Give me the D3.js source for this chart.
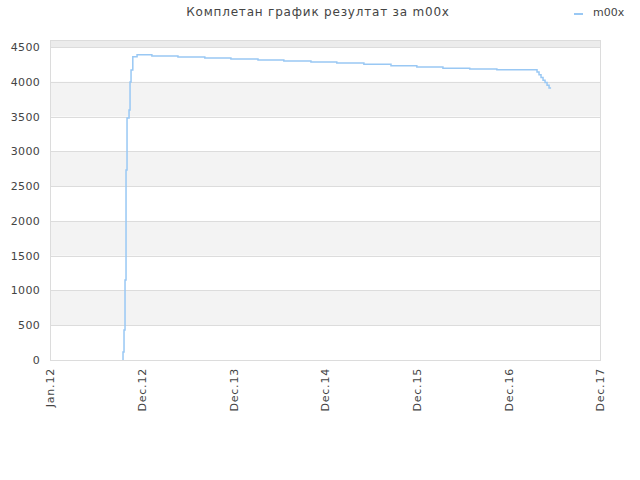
<!DOCTYPE html>
<html>
<head>
<meta charset="utf-8">
<script src="https://cdn.jsdelivr.net/npm/d3@7"></script>
<style>
  body { margin: 0; background: #fff; }
  text { font-family: "DejaVu Sans", sans-serif; fill: #444; }
</style>
</head>
<body>
<div id="chart"></div>
<script>
// data
var seriesName = 'm00x';
var dates = [
    '2012-10-18', '2012-10-22', '2012-10-26', '2012-10-30', '2012-11-03',
    '2012-11-11', '2012-11-15', '2012-11-19', '2012-11-26', '2012-12-13',
    '2013-02-10', '2013-05-25', '2013-09-09', '2013-12-22',
    '2014-04-09', '2014-07-21', '2014-11-06', '2015-02-17', '2015-06-05',
    '2015-09-21', '2016-01-02', '2016-04-15', '2016-07-31', '2016-11-16',
    '2017-02-28', '2017-04-25', '2017-05-03', '2017-05-11', '2017-05-19',
    '2017-05-27', '2017-06-04', '2017-06-12', '2017-06-20'
];
var values = [
    0, 115, 431, 1150, 2731,
    3479, 3594, 3997, 4169, 4360,
    4389, 4370, 4356, 4341,
    4327, 4313, 4298, 4284, 4270,
    4251, 4231, 4212, 4194, 4183,
    4174, 4174, 4140, 4100, 4060,
    4020, 3990, 3950, 3910
];
var xTickDates = ['2012-01-01', '2013-01-01', '2014-01-01', '2015-01-01', '2016-01-01', '2017-01-01', '2018-01-01'];
var xTickLabels = ['Jan.12', 'Dec.12', 'Dec.13', 'Dec.14', 'Dec.15', 'Dec.16', 'Dec.17'];
var yTicks = [0, 500, 1000, 1500, 2000, 2500, 3000, 3500, 4000, 4500];
var yMax = 4600;

var W = 640, H = 480;
var plot = { x0: 50, x1: 600, y0: 40, y1: 360 };
var parse = d3.timeParse('%Y-%m-%d');

var svg = d3.select('#chart').append('svg')
    .attr('width', W)
    .attr('height', H);

var x = d3.scaleTime()
    .domain([parse(xTickDates[0]), parse(xTickDates[xTickDates.length - 1])])
    .range([plot.x0, plot.x1]);
var y = d3.scaleLinear()
    .domain([0, yMax])
    .range([plot.y1, plot.y0]);

// alternating bands, top one included
var bandEdges = yTicks.concat([yMax]);
for (var i = 0; i < bandEdges.length - 1; i++) {
    if ((bandEdges.length - 2 - i) % 2 !== 0) continue;
    svg.append('rect')
        .attr('x', plot.x0)
        .attr('y', y(bandEdges[i + 1]))
        .attr('width', plot.x1 - plot.x0)
        .attr('height', y(bandEdges[i]) - y(bandEdges[i + 1]))
        .attr('fill', i === bandEdges.length - 2 ? '#ececec' : '#f3f3f3');
}

// grid lines
svg.append('g').selectAll('line')
    .data(yTicks)
    .enter().append('line')
    .attr('x1', plot.x0).attr('x2', plot.x1)
    .attr('y1', function (d) { return Math.round(y(d)) + 0.5; })
    .attr('y2', function (d) { return Math.round(y(d)) + 0.5; })
    .attr('stroke', '#dcdcdc');

svg.append('rect')
    .attr('x', plot.x0 + 0.5).attr('y', plot.y0 + 0.5)
    .attr('width', plot.x1 - plot.x0).attr('height', plot.y1 - plot.y0)
    .attr('fill', 'none')
    .attr('stroke', '#dcdcdc');

// y axis
var yAxis = d3.axisLeft(y).tickValues(yTicks).tickSize(0).tickPadding(10).tickFormat(d3.format('d'));
var gy = svg.append('g').attr('transform', 'translate(' + plot.x0 + ',0)').call(yAxis);
gy.select('.domain').remove();
gy.selectAll('text')
    .style('font-size', '11px')
    .attr('fill', '#444')
    .attr('font-family', 'DejaVu Sans')
    .attr('letter-spacing', '0.3px');

// x axis
var xAxis = d3.axisBottom(x)
    .tickValues(xTickDates.map(parse))
    .tickSize(0)
    .tickFormat(function (d, i) { return xTickLabels[i]; });
var gx = svg.append('g').attr('transform', 'translate(0,' + plot.y1 + ')').call(xAxis);
gx.select('.domain').remove();
gx.selectAll('text')
    .style('font-size', '11px')
    .attr('fill', '#444')
    .attr('font-family', 'DejaVu Sans')
    .attr('letter-spacing', '0.8px')
    .attr('text-anchor', 'end')
    .attr('transform', 'rotate(-90)')
    .attr('x', -8)
    .attr('y', 0)
    .attr('dy', '0.35em');

// the series
var data = dates.map(function (d, i) { return { date: parse(d), value: values[i] }; });
var line = d3.line()
    .x(function (d) { return x(d.date); })
    .y(function (d) { return y(d.value); })
    .curve(d3.curveStepBefore);
svg.append('path')
    .datum(data)
    .attr('d', line)
    .attr('fill', 'none')
    .attr('stroke', '#99c8f4')
    .attr('stroke-width', 1.5);

// title and legend
svg.append('text')
    .attr('x', 318).attr('y', 16)
    .attr('text-anchor', 'middle')
    .style('font-size', '12px')
    .attr('letter-spacing', '0.8px')
    .attr('fill', '#444')
    .text('Комплетан график резултат за m00x');

svg.append('line')
    .attr('x1', 574).attr('x2', 583)
    .attr('y1', 14).attr('y2', 14)
    .attr('stroke', '#99c8f4')
    .attr('stroke-width', 2);
svg.append('text')
    .attr('x', 593).attr('y', 16)
    .style('font-size', '11px')
    .attr('fill', '#222')
    .text(seriesName);
</script>
</body>
</html>
